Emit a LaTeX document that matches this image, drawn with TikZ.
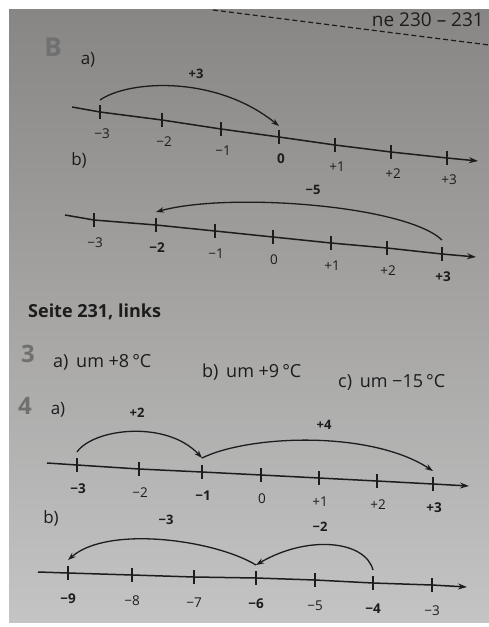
\documentclass[tikz,border=0pt]{standalone}
\usepackage{fontspec}
\setmainfont{Open Sans}
\usetikzlibrary{arrows.meta}
\definecolor{ink}{RGB}{28,28,28}
\definecolor{paperTop}{RGB}{136,134,132}
\definecolor{paperMid}{RGB}{180,179,178}
\definecolor{paperBot}{RGB}{196,196,196}
\definecolor{numgray}{RGB}{112,112,112}
\begin{document}
\begin{tikzpicture}[x=1pt,y=-1pt,
  axis/.style={line width=1.5pt, draw=ink, -{Stealth[length=9pt,width=6pt]}},
  tickmark/.style={line width=1.4pt, draw=ink},
  ticklab/.style={font=\fontsize{13.5}{15}\selectfont, text=ink, inner sep=0pt},
  jump/.style={line width=1.3pt, draw=ink, -{Stealth[length=8pt,width=5.5pt]}},
  jumplab/.style={font=\fontsize{13}{15}\selectfont\bfseries, text=ink, inner sep=0pt},
  part/.style={font=\fontsize{17}{19}\selectfont, text=ink, inner sep=0pt},
  bignum/.style={font=\fontsize{26}{28}\selectfont\bfseries, text=numgray, inner sep=0pt},
  body/.style={font=\fontsize{18}{20}\selectfont, text=ink, inner sep=0pt, anchor=base west},
]
\useasboundingbox (0,0) rectangle (489,627);
\fill[white] (0,0) rectangle (489,627);
\shade[top color=paperTop, middle color=paperMid, bottom color=paperBot] (9,9) rectangle (489,622);

% header remnants
\node[font=\fontsize{19}{21}\selectfont, text=ink, inner sep=0pt, anchor=base east] (hdr) at (484,26) {ne 230 – 231};
\coordinate (dashA) at (213,10);
\coordinate (dashB) at (489,45);
\draw[ink, line width=1.2pt, dash pattern=on 5pt off 3pt] (dashA) -- (dashB);

% ---------- B ----------
\node[bignum] (B) at (53,47) {B};
\node[part] (Ba) at (88,60) {a)};

\coordinate (BaS) at (72,107);
\coordinate (BaE) at (478,161);
\foreach \x/\y/\n/\l in {100/112/m3/{−3},162/120/m2/{−2},221/129/m1/{−1},279/137/z/{\bfseries 0},335/145/p1/{+1},391/152/p2/{+2},447/158/p3/{+3}}{
  \coordinate (Ba\n) at (\x,\y);
  \draw[tickmark] ([yshift=7pt]Ba\n) -- ([yshift=-7pt]Ba\n);
  \node[ticklab] (Bal\n) at (\x+2,\y+22) {\l};
}
\draw[axis] (BaS) -- (Bam3) -- (Bam2) -- (Bam1) -- (Baz) -- (Bap1) -- (Bap2) -- (Bap3) -- (BaE);
\draw[jump] ([yshift=12pt]Bam3) .. controls +(29,-20) and +(-63,-51) .. ([yshift=11pt]Baz);
\node[jumplab] (BaJ) at (196,74) {+3};

\node[part] (Bb) at (79,160) {b)};
\coordinate (BbS) at (65,215);
\coordinate (BbE) at (476,257);
\foreach \x/\y/\n/\l in {94/220/m3/{−3},156/225/m2/{\bfseries −2},215/231/m1/{−1},273/237/z/{0},331/243/p1/{+1},387/248/p2/{+2},442/254/p3/{\bfseries +3}}{
  \coordinate (Bb\n) at (\x,\y);
  \draw[tickmark] ([yshift=7pt]Bb\n) -- ([yshift=-7pt]Bb\n);
  \node[ticklab] (Bbl\n) at (\x+1,\y+23) {\l};
}
\draw[axis] (BbS) -- (Bbm3) -- (Bbm2) -- (Bbm1) -- (Bbz) -- (Bbp1) -- (Bbp2) -- (Bbp3) -- (BbE);
\draw[jump] ([yshift=14pt]Bbp3) .. controls +(-37,-35) and +(72,-20) .. ([yshift=13pt]Bbm2);
\node[jumplab] (BbJ) at (313,190) {−5};

% ---------- Seite 231 ----------
\node[body, font=\fontsize{18}{20}\selectfont\bfseries] (seite) at (28,317) {Seite 231, links};
\node[bignum, font=\fontsize{24}{26}\selectfont\bfseries] (n3) at (28,354) {3};
\node[body] (t3a) at (53,367) {a)\, um +8\,°C};
\node[body] (t3b) at (202,377) {b)\, um +9\,°C};
\node[body] (t3c) at (338,387) {c)\, um −15\,°C};

% ---------- 4 ----------
\node[bignum, font=\fontsize{24}{26}\selectfont\bfseries] (n4) at (25,406) {4};
\node[part] (Fa) at (58,410) {a)};
\coordinate (FaS) at (47,463);
\coordinate (FaE) at (469,486);
\foreach \x/\y/\n/\l in {77/465/m3/{\bfseries −3},139/469/m2/{−2},202/472/m1/{\bfseries −1},261/475/z/{0},319/478/p1/{+1},377/481/p2/{+2},433/484/p3/{\bfseries +3}}{
  \coordinate (Fa\n) at (\x,\y);
  \draw[tickmark] ([yshift=7pt]Fa\n) -- ([yshift=-7pt]Fa\n);
  \node[ticklab] (Fal\n) at (\x+1,\y+24) {\l};
}
\draw[axis] (FaS) -- (Fam3) -- (Fam2) -- (Fam1) -- (Faz) -- (Fap1) -- (Fap2) -- (Fap3) -- (FaE);
\draw[jump] ([yshift=13pt]Fam3) .. controls +(17,-24) and +(-35,-38) .. ([yshift=14pt]Fam1);
\draw[jump] ([yshift=14pt]Fam1) .. controls +(47,-23) and +(-63,-41) .. ([yshift=13pt]Fap3);
\node[jumplab] (FaJ1) at (137,413) {+2};
\node[jumplab] (FaJ2) at (324,425) {+4};

\node[part] (Fb) at (51,518) {b)};
\coordinate (FbS) at (38,572);
\coordinate (FbE) at (467,587);
\foreach \x/\y/\n/\l in {68/573/m9/{\bfseries −9},132/575/m8/{−8},194/577/m7/{−7},256/578/m6/{\bfseries −6},315/580/m5/{−5},373/583/m4/{\bfseries −4},432/585/m3/{−3}}{
  \coordinate (Fb\n) at (\x,\y);
  \draw[tickmark] ([yshift=7pt]Fb\n) -- ([yshift=-7pt]Fb\n);
  \node[ticklab] (Fbl\n) at (\x,\y+26) {\l};
}
\draw[axis] (FbS) -- (Fbm9) -- (Fbm8) -- (Fbm7) -- (Fbm6) -- (Fbm5) -- (Fbm4) -- (Fbm3) -- (FbE);
\draw[jump] ([yshift=13pt]Fbm6) .. controls +(-41,-25) and +(40,-35) .. ([yshift=13pt]Fbm9);
\draw[jump] ([yshift=13pt]Fbm4) .. controls +(-8,-30) and +(51,-30) .. ([yshift=13pt]Fbm6);
\node[jumplab] (FbJ1) at (166,520) {−3};
\node[jumplab] (FbJ2) at (320,527) {−2};
\end{tikzpicture}
\end{document}
